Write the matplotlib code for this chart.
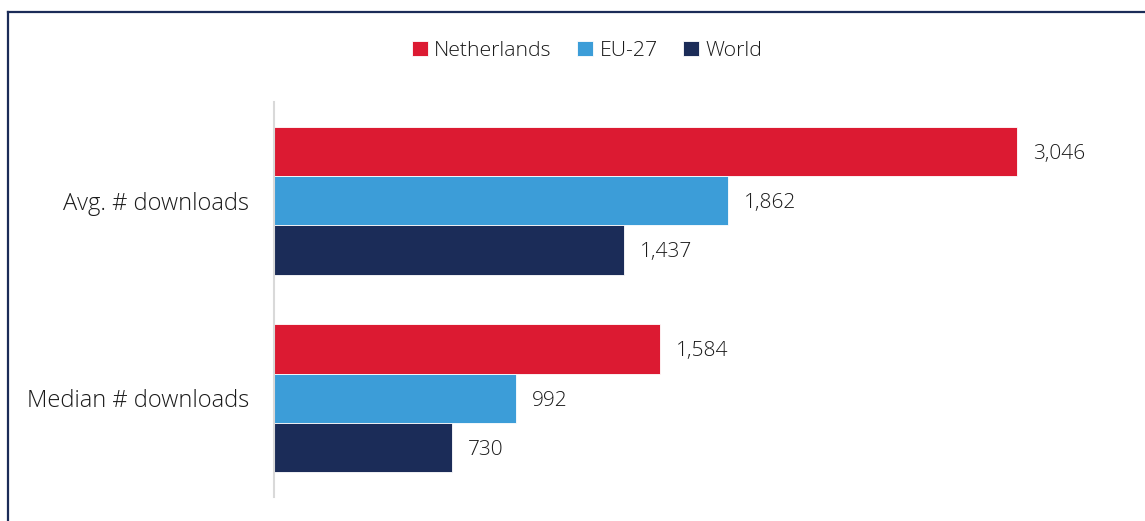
import matplotlib.pyplot as plt
from matplotlib.lines import Line2D
import numpy as np

plt.rcParams['font.family'] = ['Open Sans', 'DejaVu Sans']
plt.rcParams['font.weight'] = 'light'

categories = ['Avg. # downloads', 'Median # downloads']
series = ['Netherlands', 'EU-27', 'World']
values = {
    'Netherlands': [3046, 1584],
    'EU-27': [1862, 992],
    'World': [1437, 730],
}
colors = ['#DC1A32', '#3C9DD8', '#1B2C58']

W, H = 1145, 521
fig = plt.figure(figsize=(W / 100, H / 100), dpi=100)
ax = fig.add_axes([274 / W, 1 - 497 / H, (1130 - 274) / W, (497 - 102) / H])

y = np.arange(len(categories))
h = 0.25
for i, (name, c) in enumerate(zip(series, colors)):
    pos = y + (i - 1) * h
    bars = ax.barh(pos, values[name], height=h, color=c, label=name,
                   edgecolor='white', linewidth=0.6)
    for b, v in zip(bars, values[name]):
        ax.text(b.get_width() + 65, b.get_y() + b.get_height() / 2 + 0.012, f'{v:,}',
                va='center', ha='left', fontsize=15, color='#1a1a1a')

ax.set_xlim(0, 3510)
ax.set_ylim(1.5, -0.5)
ax.set_yticks(y)
ax.set_yticklabels(categories, fontsize=17, color='#1a1a1a')
ax.tick_params(axis='y', length=0, pad=18)
ax.set_xticks([])
for s in ['top', 'right', 'bottom']:
    ax.spines[s].set_visible(False)
ax.spines['left'].set_color('#D9D9D9')
ax.spines['left'].set_linewidth(1.5)

leg = fig.legend(loc='center', bbox_to_anchor=(587 / W, 1 - 51 / H), ncol=3,
                 frameon=False, fontsize=15.3, handlelength=0.75, handleheight=0.75,
                 handletextpad=0.3, columnspacing=1.2)
for t in leg.get_texts():
    t.set_color('#1a1a1a')

# outer frame (left and top only)
fig.add_artist(Line2D([8 / W, 8 / W], [0, 1 - 12 / H], color='#1B2C58', lw=1.6))
fig.add_artist(Line2D([8 / W, 1], [1 - 12 / H, 1 - 12 / H], color='#1B2C58', lw=1.6))

fig.savefig('out.png', dpi=100)
